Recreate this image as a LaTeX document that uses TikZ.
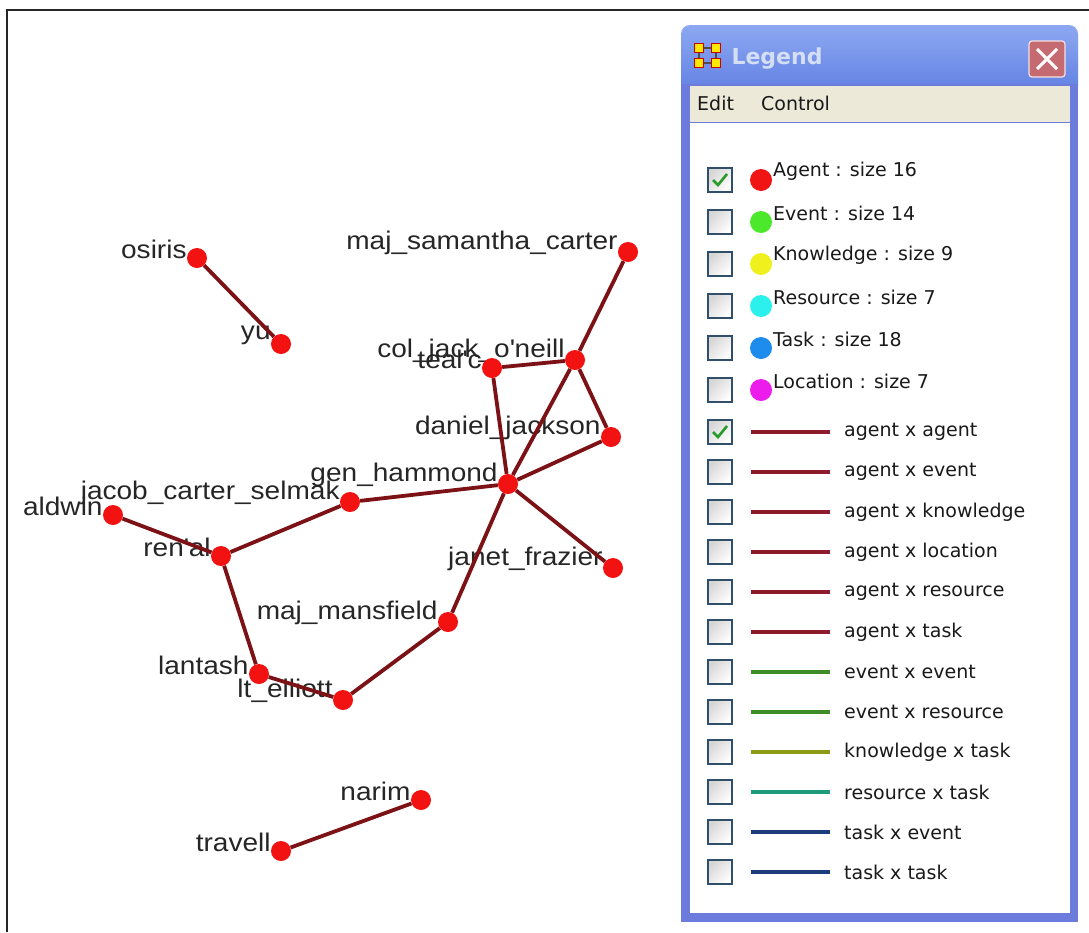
\documentclass[tikz,border=0pt]{standalone}
\usepackage{fontspec}
\setmainfont{Liberation Sans}
\newfontfamily\graphfont[FakeStretch=1.1]{Liberation Sans}
\newfontfamily\legfont{DejaVu Sans}
\usetikzlibrary{positioning}
\definecolor{nodered}{HTML}{F21212}
\definecolor{edgered}{HTML}{7C1216}
\definecolor{framebl}{HTML}{6B7CDC}
\definecolor{titletop}{HTML}{8DA8F2}
\definecolor{titlebot}{HTML}{5F7FE2}
\definecolor{titletext}{HTML}{D4DEF4}
\definecolor{menubg}{HTML}{ECE9D8}
\definecolor{closered}{HTML}{C66A72}
\definecolor{boxedge}{HTML}{2F4F6A}
\definecolor{checkgreen}{HTML}{2A9A2A}
\definecolor{agentc}{HTML}{F01414}
\definecolor{eventc}{HTML}{4CE82C}
\definecolor{knowc}{HTML}{F0F01C}
\definecolor{resc}{HTML}{2CF0EC}
\definecolor{taskc}{HTML}{1E8CEC}
\definecolor{locc}{HTML}{EC1CEC}
\definecolor{lnagent}{HTML}{8C1C2C}
\definecolor{lnevent}{HTML}{3C8C28}
\definecolor{lnknow}{HTML}{8C9A14}
\definecolor{lnres}{HTML}{1C9A7C}
\definecolor{lntask}{HTML}{1C3C7C}
\tikzset{
    agent/.style={
        circle,
        fill=nodered,
        minimum size=20pt,
        inner sep=0pt,
        label distance=7pt,
        label={[name label]left:#1}
    },
    name label/.style={
        font=\graphfont\fontsize{25.5}{28}\selectfont,
        text=black!85,
        inner sep=0pt,
        yshift=9pt
    },
    link/.style={
        draw=edgered,
        line width=3.8pt
    },
    checkbox/.style={
        draw=boxedge,
        line width=1.5pt,
        top color=black!16,
        bottom color=white,
        shading angle=45,
        minimum size=24pt,
        inner sep=0pt
    },
    key text/.style={
        font=\legfont\fontsize{19}{22}\selectfont,
        text=black!90,
        inner sep=0pt,
        anchor=west
    }
}

\begin{document}
\begin{tikzpicture}[x=1pt, y=-1pt]
            \useasboundingbox (0,0) rectangle (1089,932);
            \fill [white] (0,0) rectangle (1089,932);
            \draw [black!85, line width=2.5pt] (7,932) -- (7,10) -- (1089,10);

            % Agents
            \node (osiris) [agent=osiris] at (197,258) {};
            \node (yu) [agent=yu] at (281,344) {};
            \node (carter) [agent={maj\_samantha\_carter}] at (628,252) {};
            \node (oneill) [agent={col\_jack\_o\textquotesingle neill}] at (575,360) {};
            \node (tealc) [agent={teal\textquotesingle c}] at (492,368) {};
            \node (jackson) [agent={daniel\_jackson}] at (611,437) {};
            \node (hammond) [agent={gen\_hammond}] at (508,484) {};
            \node (selmak) [agent={jacob\_carter\_selmak}] at (350,502) {};
            \node (aldwin) [agent=aldwin] at (113,515) {};
            \node (renal) [agent={ren\textquotesingle al}] at (221,556) {};
            \node (frazier) [agent={janet\_frazier}] at (613,568) {};
            \node (mansfield) [agent={maj\_mansfield}] at (448,622) {};
            \node (lantash) [agent=lantash] at (259,674) {};
            \node (elliott) [agent={lt\_elliott}] at (343,700) {};
            \node (narim) [agent=narim] at (421,800) {};
            \node (travell) [agent=travell] at (281,851) {};

            % Links
            \path [link]
                (osiris) edge (yu)
                (carter) edge (oneill)
                (oneill) edge (tealc)
                (oneill) edge (jackson)
                (oneill) edge (hammond)
                (tealc) edge (hammond)
                (jackson) edge (hammond)
                (hammond) edge (frazier)
                (hammond) edge (selmak)
                (hammond) edge (mansfield)
                (selmak) edge (renal)
                (aldwin) edge (renal)
                (renal) edge (lantash)
                (lantash) edge (elliott)
                (elliott) edge (mansfield)
                (narim) edge (travell)
            ;

            % Legend window
            \shade [top color=titletop, bottom color=titlebot, rounded corners=9pt] (681,25) rectangle (1078,95);
            \fill [framebl] (681,84) rectangle (1078,922);
            \fill [menubg] (690,86) rectangle (1070,122);
            \fill [white] (690,123) rectangle (1070,913);
            \draw [black!70, line width=1.2pt] (699,48) rectangle (716,63);
            \foreach \ix/\iy in {699/48, 716/48, 699/63, 716/63}
                \node [draw=red!80!black, fill=yellow!90!orange, line width=1pt, minimum size=9pt, inner sep=0pt] at (\ix,\iy) {};
            \node (title) [anchor=west, text=titletext, font=\legfont\bfseries\fontsize{22}{24}\selectfont] at (728,59) {Legend};
            \node (close) [draw=white!80!closered, line width=1.2pt, fill=closered, rounded corners=3pt, minimum size=36pt] at (1047,59) {};
            \draw [white, line width=3pt] ([shift={(-10,-10)}]close.center) -- ([shift={(10,10)}]close.center);
            \draw [white, line width=3pt] ([shift={(-10,10)}]close.center) -- ([shift={(10,-10)}]close.center);
            \node (edit) [key text] at (697,103) {Edit};
            \node (control) [key text] at (761,103) {Control};

            % Node classes
            \foreach \i/\y/\col/\txt in {1/180/agentc/Agent : size 16, 2/222/eventc/Event : size 14, 3/264/knowc/Knowledge : size 9, 4/306/resc/Resource : size 7, 5/348/taskc/Task : size 18, 6/390/locc/Location : size 7}
            {
                \node (chk\i) [checkbox] at (720,\y) {};
                \node (dot\i) [circle, fill=\col, minimum size=22pt, inner sep=0pt] at (761,\y) {};
                \node (key\i) [key text] at (773,\y-9) {\txt};
            }

            % Link classes
            \foreach \i/\y/\col/\txt in {1/432/lnagent/agent x agent, 2/472/lnagent/agent x event, 3/512/lnagent/agent x knowledge, 4/552/lnagent/agent x location, 5/592/lnagent/agent x resource, 6/632/lnagent/agent x task, 7/672/lnevent/event x event, 8/712/lnevent/event x resource, 9/752/lnknow/knowledge x task, 10/792/lnres/resource x task, 11/832/lntask/task x event, 12/872/lntask/task x task}
            {
                \node (lchk\i) [checkbox] at (720,\y) {};
                \draw [\col, line width=3.6pt] (751,\y) -- (830,\y);
                \node (lkey\i) [key text] at (844,\y) {\txt};
            }

            % Ticks
            \draw [checkgreen, line width=2.6pt] ([shift={(-7,0)}]chk1.center) -- ([shift={(-2,5)}]chk1.center) -- ([shift={(7,-6)}]chk1.center);
            \draw [checkgreen, line width=2.6pt] ([shift={(-7,0)}]lchk1.center) -- ([shift={(-2,5)}]lchk1.center) -- ([shift={(7,-6)}]lchk1.center);
        \end{tikzpicture}
\end{document}
